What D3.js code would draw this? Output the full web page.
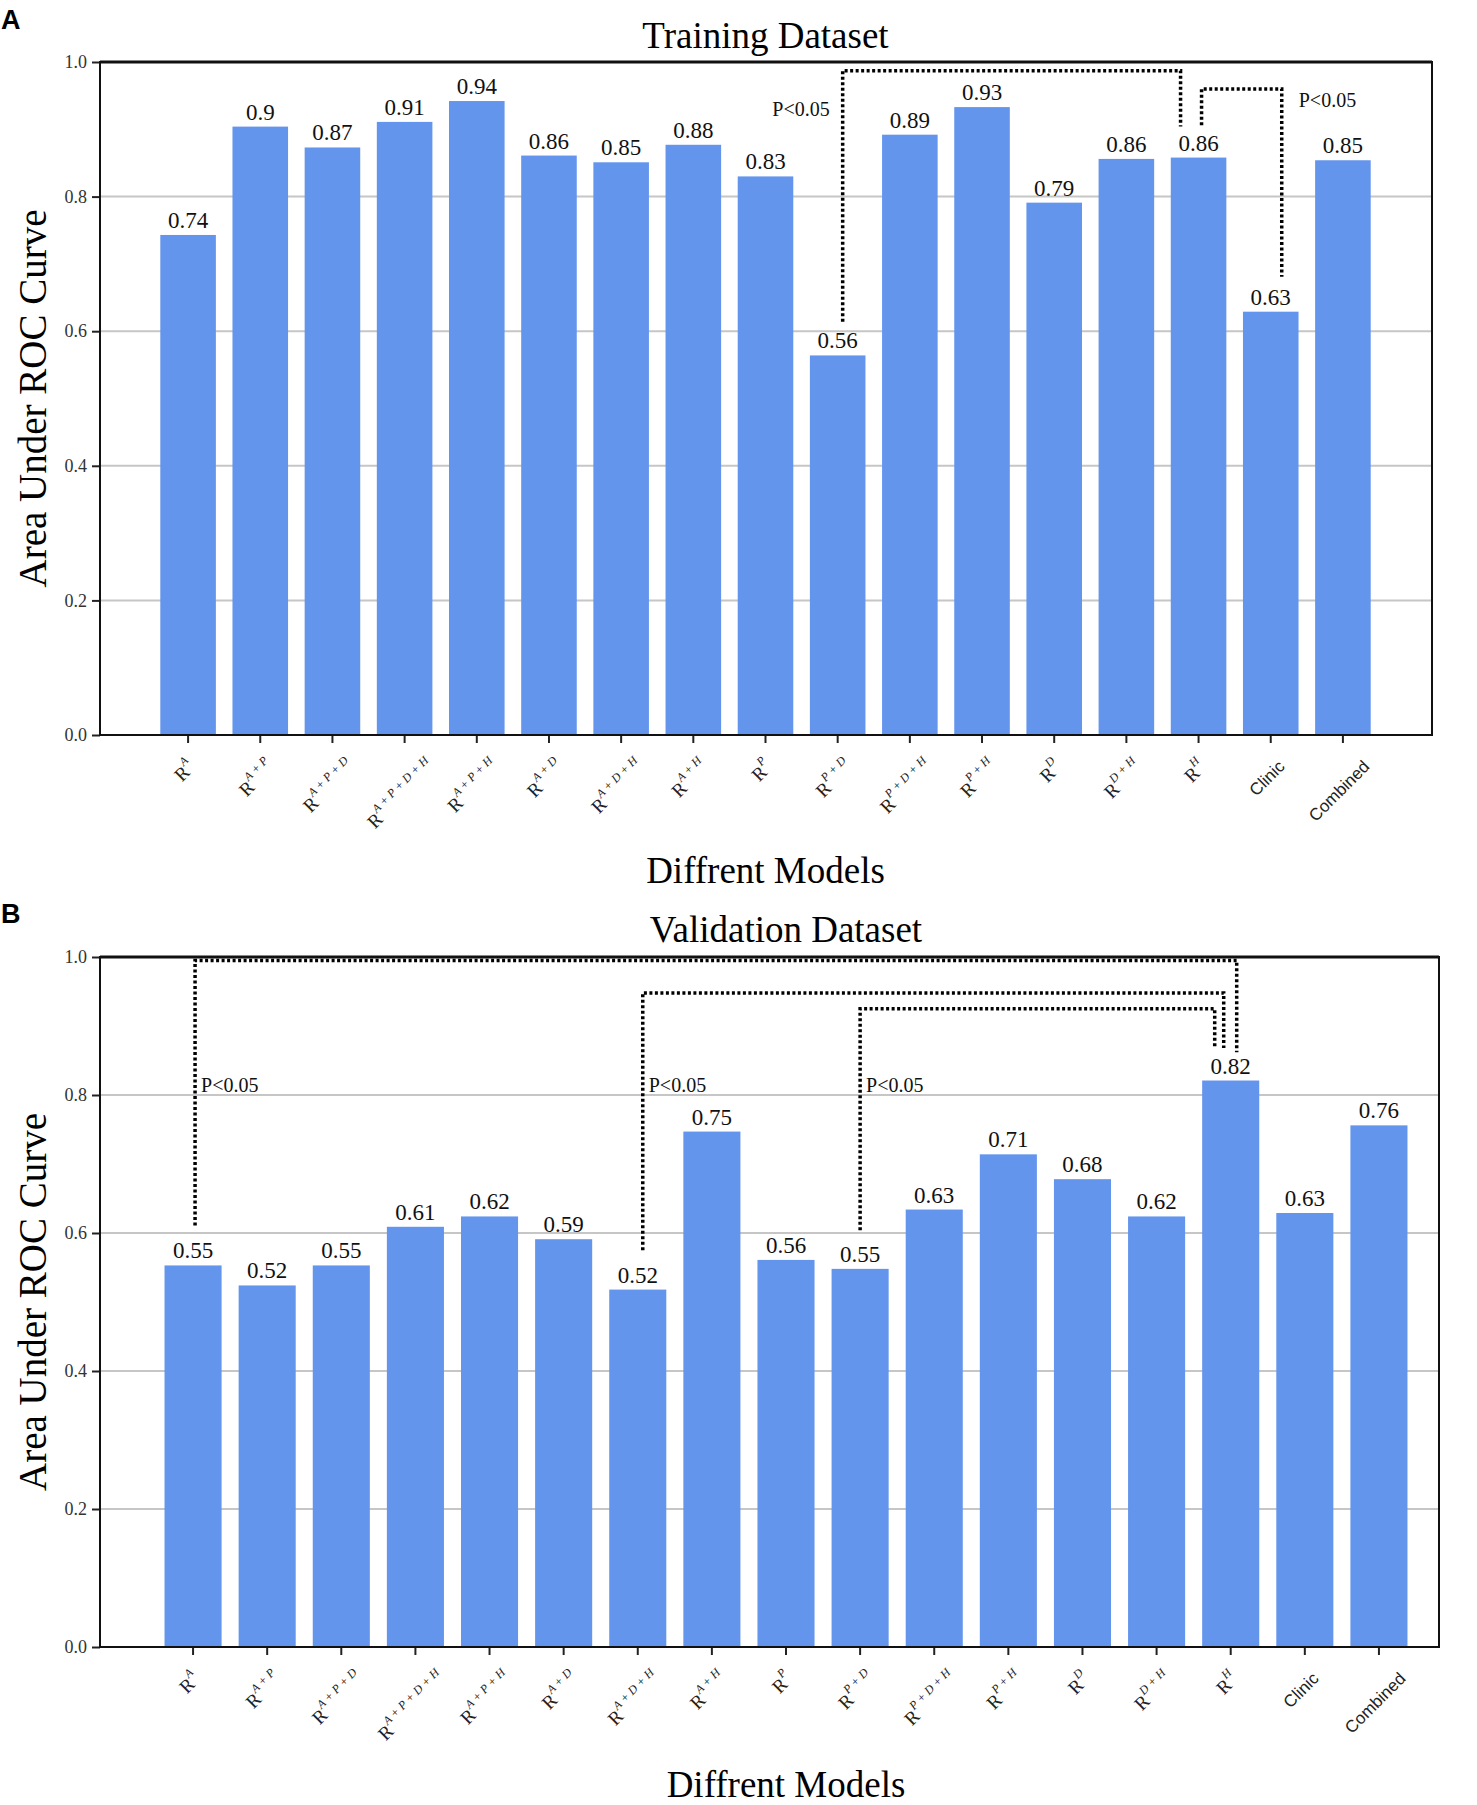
<!DOCTYPE html>
<html>
<head>
<meta charset="utf-8">
<script src="https://cdn.jsdelivr.net/npm/d3@7"></script>
<style>
  body { margin: 0; background: #fff; }
</style>
</head>
<body>
<div id="chart"></div>
<script>
// models on the x axis (same order in both panels)
const models = ["RA", "RA+P", "RA+P+D", "RA+P+D+H", "RA+P+H", "RA+D", "RA+D+H", "RA+H",
                "RP", "RP+D", "RP+D+H", "RP+H", "RD", "RD+H", "RH", "Clinic", "Combined"];

// AUC
const trainAUC = [0.743, 0.904, 0.873, 0.911, 0.942, 0.861, 0.851, 0.877, 0.830,
                  0.564, 0.892, 0.933, 0.791, 0.856, 0.858, 0.629, 0.854];
const validAUC = [0.553, 0.524, 0.553, 0.609, 0.624, 0.591, 0.518, 0.747, 0.561,
                  0.548, 0.634, 0.714, 0.678, 0.624, 0.821, 0.629, 0.756];

const yTicks = [0.0, 0.2, 0.4, 0.6, 0.8, 1.0];

// significance brackets (levels in AUC units)
const trainBrackets = [
  { from: "RP+D", to: "RH",     fromY: 0.614, toY: 0.904, top: 0.987, label: "P<0.05", labelY: 0.920 },
  { from: "RH",   to: "Clinic", fromY: 0.906, toY: 0.681, top: 0.960, label: "P<0.05", labelY: 0.933 }
];
const validBrackets = [
  { from: "RA",     to: "RH", fromY: 0.611, toY: 0.862, top: 0.995, label: "P<0.05", labelY: 0.804 },
  { from: "RA+D+H", to: "RH", fromY: 0.575, toY: 0.868, top: 0.948, label: "P<0.05", labelY: 0.804 },
  { from: "RP+D",   to: "RH", fromY: 0.604, toY: 0.868, top: 0.925, label: "P<0.05", labelY: 0.804 }
];

const W = 1477, H = 1805;
const barColor = "#6495ed";
const serif = "'Liberation Serif', 'Times New Roman', serif";
const sans = "'Liberation Sans', Arial, sans-serif";

const panels = [
  { letter: "A", title: "Training Dataset", values: trainAUC, brackets: trainBrackets,
    left: 100, right: 1432, top: 62, bottom: 735, barStart: 152, barEnd: 1379,
    letterY: 29, titleY: 48, xTitleY: 883,
    // [dx at from, dx at to, label dx, label anchor, label at]
    bracketLayout: [[5, -18, -13, "end", "from"], [3, 11, 17, "start", "to"]] },
  { letter: "B", title: "Validation Dataset", values: validAUC, brackets: validBrackets,
    left: 100, right: 1439, top: 957, bottom: 1647, barStart: 156, barEnd: 1416,
    letterY: 923, titleY: 942, xTitleY: 1797,
    bracketLayout: [[2, 6, 6, "start", "from"], [5, -7, 6, "start", "from"], [0, -16, 6, "start", "from"]] }
];

const svg = d3.select("#chart").append("svg")
  .attr("width", W).attr("height", H);

function tickLabel(sel, name) {
  if (name.startsWith("R") && name !== "Combined") {
    sel.append("tspan").style("font-family", serif).attr("font-size", 19).text("R");
    sel.append("tspan").style("font-family", serif).attr("font-size", 12).attr("font-style", "italic")
      .attr("dy", -7).text(name.slice(1).replace(/\+/g, " + "));
  } else {
    sel.append("tspan").style("font-family", sans).attr("font-size", 17).text(name);
  }
}

panels.forEach(p => {
  const g = svg.append("g");
  const data = models.map((m, i) => ({ model: m, auc: p.values[i] }));

  const x = d3.scaleBand().domain(models)
    .range([p.barStart, p.barEnd]).paddingInner(0.23).paddingOuter(0.115);
  const y = d3.scaleLinear().domain([0, 1]).range([p.bottom, p.top]);
  const cx = m => x(m) + x.bandwidth() / 2;

  // grid
  g.append("g").selectAll("line")
    .data(yTicks.filter(t => t > 0 && t < 1))
    .join("line")
    .attr("x1", p.left).attr("x2", p.right)
    .attr("y1", d => y(d)).attr("y2", d => y(d))
    .attr("stroke", "#c6c6c6").attr("stroke-width", 2);

  // bars
  g.append("g").selectAll("rect").data(data).join("rect")
    .attr("x", d => x(d.model))
    .attr("width", x.bandwidth())
    .attr("y", d => y(d.auc))
    .attr("height", d => y(0) - y(d.auc))
    .attr("fill", barColor);

  // value labels
  g.append("g").selectAll("text").data(data).join("text")
    .attr("x", d => cx(d.model))
    .attr("y", d => y(d.auc) - 7)
    .attr("text-anchor", "middle")
    .style("font-family", serif)
    .attr("font-size", 23)
    .attr("fill", "#111")
    .text(d => String(+d.auc.toFixed(2)));

  // y axis
  const yAxis = g.append("g").attr("transform", `translate(${p.left},0)`)
    .call(d3.axisLeft(y).tickValues(yTicks).tickFormat(d3.format(".1f")).tickSize(8).tickPadding(5));
  yAxis.select(".domain").remove();
  yAxis.selectAll(".tick line").attr("stroke", "#222").attr("stroke-width", 2);
  yAxis.selectAll(".tick text")
    .style("font-family", serif)
    .attr("font-size", 18).attr("fill", "#333");

  // x axis ticks
  const xAxis = g.append("g").attr("transform", `translate(0,${p.bottom})`)
    .call(d3.axisBottom(x).tickSize(8).tickFormat(""));
  xAxis.select(".domain").remove();
  xAxis.selectAll(".tick line").attr("stroke", "#222").attr("stroke-width", 2);

  // rotated x labels, centred under ticks like matplotlib rotation=45
  models.forEach(m => {
    const t = g.append("text")
      .attr("text-anchor", "middle")
      .attr("dominant-baseline", "central")
      .attr("fill", "#222");
    tickLabel(t, m);
    const L = t.node().getComputedTextLength();
    const bh = (L + 18) * Math.SQRT1_2;
    t.attr("transform", `translate(${cx(m) - 4},${p.bottom + 22 + bh / 2}) rotate(-45)`);
  });

  // frame
  g.append("rect")
    .attr("x", p.left).attr("y", p.top)
    .attr("width", p.right - p.left).attr("height", p.bottom - p.top)
    .attr("fill", "none").attr("stroke", "#111").attr("stroke-width", 2);
  g.append("line")
    .attr("x1", p.left).attr("x2", p.right)
    .attr("y1", p.top).attr("y2", p.top)
    .attr("stroke", "#111").attr("stroke-width", 3);

  // brackets
  p.brackets.forEach((b, i) => {
    const [dxA, dxB, ldx, anchor, at] = p.bracketLayout[i];
    const xa = cx(b.from) + dxA, xb = cx(b.to) + dxB;
    g.append("path")
      .attr("d", d3.line()([[xa, y(b.fromY)], [xa, y(b.top)], [xb, y(b.top)], [xb, y(b.toY)]]))
      .attr("fill", "none")
      .attr("stroke", "#000")
      .attr("stroke-width", 3.5)
      .attr("stroke-dasharray", "3,2.5");
    g.append("text")
      .attr("x", (at === "from" ? xa : xb) + ldx)
      .attr("y", y(b.labelY))
      .attr("text-anchor", anchor)
      .style("font-family", serif)
      .attr("font-size", 20)
      .attr("fill", "#111")
      .text(b.label);
  });

  // titles
  const mid = (p.barStart + p.barEnd) / 2;
  g.append("text").attr("x", mid).attr("y", p.titleY)
    .attr("text-anchor", "middle").style("font-family", serif).attr("font-size", 37).text(p.title);
  g.append("text").attr("x", mid).attr("y", p.xTitleY)
    .attr("text-anchor", "middle").style("font-family", serif).attr("font-size", 37).text("Diffrent Models");
  g.append("text")
    .attr("transform", `translate(46,${(p.top + p.bottom) / 2}) rotate(-90)`)
    .attr("text-anchor", "middle").style("font-family", serif).attr("font-size", 39)
    .text("Area Under ROC Curve");
  g.append("text").attr("x", 1).attr("y", p.letterY)
    .style("font-family", sans)
    .attr("font-weight", "bold").attr("font-size", 27).text(p.letter);
});
</script>
</body>
</html>
